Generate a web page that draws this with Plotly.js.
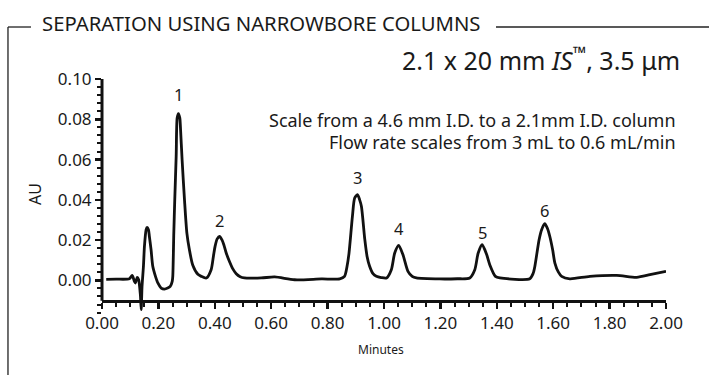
<!DOCTYPE html>
<html>
<head>
<meta charset="utf-8">
<script src="https://cdn.plot.ly/plotly-3.0.1.min.js"></script>
<style>html,body{margin:0;padding:0;background:#fff;}#chart{width:709px;height:375px;}</style>
</head>
<body>
<div id="chart"></div>
<script>
// Chromatogram trace (time in minutes, absorbance in AU)
var timeMin = [0.015,0.05,0.097,0.107,0.115,0.1186,0.125,0.130,0.136,0.139,0.142,0.147,0.1505,0.1565,0.160,0.1647,0.168,0.174,0.180,0.1896,0.198,0.2098,0.2215,0.233,0.242,0.249,0.251,0.2546,0.258,0.263,0.2665,0.271,0.276,0.278,0.284,0.2925,0.301,0.310,0.322,0.340,0.352,0.370,0.387,0.395,0.401,0.4085,0.417,0.425,0.432,0.4405,0.452,0.464,0.476,0.490,0.505,0.565,0.612,0.683,0.778,0.843,0.860,0.869,0.876,0.888,0.896,0.906,0.9137,0.920,0.932,0.940,0.949,0.961,0.973,0.990,1.009,1.026,1.038,1.052,1.067,1.085,1.100,1.115,1.198,1.260,1.304,1.322,1.334,1.348,1.364,1.375,1.395,1.411,1.517,1.529,1.535,1.550,1.559,1.570,1.579,1.588,1.598,1.606,1.618,1.630,1.659,1.730,1.825,1.896,1.943,2.000];
var absAU = [0.0005,0.0006,0.0008,0.0025,-0.0005,-0.0013,0.0015,0.0003,-0.007,-0.0145,-0.003,0.007,0.0169,0.0252,0.0263,0.0252,0.0218,0.0152,0.007,0.002,-0.0013,-0.0038,-0.0043,-0.0038,-0.003,-0.0005,0.002,0.0235,0.040,0.0616,0.0806,0.0828,0.0806,0.0765,0.060,0.040,0.0235,0.0152,0.0075,0.003,0.002,0.0012,0.0053,0.0119,0.0169,0.0206,0.0218,0.0202,0.0177,0.0136,0.0094,0.0057,0.0033,0.0018,0.0012,0.0012,0.0017,0.0003,0.0007,0.0008,0.002,0.007,0.0136,0.0318,0.0409,0.0426,0.040,0.0367,0.0202,0.0119,0.007,0.0033,0.002,0.0014,0.0012,0.0053,0.0136,0.0174,0.0128,0.0045,0.002,0.0012,0.0007,0.0008,0.0012,0.0053,0.0136,0.0177,0.0128,0.0078,0.002,0.0012,0.0008,0.0035,0.007,0.0202,0.0252,0.0282,0.026,0.0218,0.0152,0.0086,0.0042,0.002,0.0008,0.002,0.0025,0.0015,0.0028,0.0045];

// Peak labels
var peakNames = ['1','2','3','4','5','6'];
var peakTimes = [0.271,0.417,0.906,1.052,1.348,1.570];
var peakLabelAU = [0.0925,0.0297,0.0509,0.0257,0.0240,0.0349];

var yTickVals = [0,0.02,0.04,0.06,0.08,0.10];
var yTickText = ['0.00','0.02','0.04','0.06','0.08','0.10'];
var xTickVals = [0,0.2,0.4,0.6,0.8,1.0,1.2,1.4,1.6,1.8,2.0];
var xTickText = ['0.00','0.20','0.40','0.60','0.80','1.00','1.20','1.40','1.60','1.80','2.00'];

var FONT = 'Noto Sans, sans-serif';
var INK = '#1a1a1a';

var trace = {
  x: timeMin, y: absAU, type: 'scatter', mode: 'lines',
  line: {color: '#111', width: 2.8, shape: 'spline', smoothing: 0.7},
  hoverinfo: 'skip'
};

var annotations = [];
for (var i = 0; i < peakNames.length; i++) {
  annotations.push({x: peakTimes[i], y: peakLabelAU[i], xref: 'x', yref: 'y', text: peakNames[i],
    showarrow: false, font: {family: FONT, size: 16.5, color: INK}, xanchor: 'center', yanchor: 'middle'});
}
annotations.push({xref:'paper', yref:'paper', x:-0.1099, y:1.2393, xanchor:'left', yanchor:'middle',
  text:'SEPARATION USING NARROWBORE COLUMNS', showarrow:false, font:{family:FONT, size:20.3, color:INK}});
annotations.push({xref:'paper', yref:'paper', x:1.0284, y:1.0855, xanchor:'right', yanchor:'middle',
  text:'2.1 x 20 mm <i>IS</i><sup>™</sup>, 3.5 μm', showarrow:false, font:{family:FONT, size:25, color:INK}});
annotations.push({xref:'paper', yref:'paper', x:1.0213, y:0.8248, xanchor:'right', yanchor:'middle',
  text:'Scale from a 4.6 mm I.D. to a 2.1mm I.D. column', showarrow:false, font:{family:FONT, size:18, color:INK}});
annotations.push({xref:'paper', yref:'paper', x:1.0213, y:0.7308, xanchor:'right', yanchor:'middle',
  text:'Flow rate scales from 3 mL to 0.6 mL/min', showarrow:false, font:{family:FONT, size:18, color:INK}});
annotations.push({xref:'paper', yref:'paper', x:-0.1175, y:0.5073, xanchor:'center', yanchor:'middle', textangle:-90,
  text:'AU', showarrow:false, font:{family:FONT, size:16, color:INK}});
annotations.push({xref:'paper', yref:'paper', x:0.4938, y:-0.158, xanchor:'center', yanchor:'middle',
  text:'Minutes', showarrow:false, font:{family:FONT, size:12, color:INK}});

var frame = {color: '#222', width: 1.3};
var shapes = [
  {type:'line', xref:'paper', yref:'paper', x0:-0.1667, x1:-0.1667, y0:1.2222, y1:-0.30, line:frame},
  {type:'line', xref:'paper', yref:'paper', x0:-0.1667, x1:-0.1259, y0:1.2222, y1:1.2222, line:frame},
  {type:'line', xref:'paper', yref:'paper', x0:0.6986, x1:1.08, y0:1.2222, y1:1.2222, line:frame},
  // y axis line stops at the x axis line
  {type:'line', xref:'paper', yref:'y', x0:0, x1:0, y0:-0.0101, y1:0.1004, line:{color:'#111', width:3}}
];

var layout = {
  width: 709, height: 375,
  margin: {l: 102, r: 43, t: 79, b: 62},
  paper_bgcolor: '#fff', plot_bgcolor: '#fff',
  showlegend: false,
  font: {family: FONT, color: INK},
  xaxis: {
    range: [0, 2.0], anchor: 'free', position: 0.0534,
    tickvals: xTickVals, ticktext: xTickText,
    ticks: 'outside', ticklen: 6, tickwidth: 2.5, tickcolor: '#111',
    showline: true, linewidth: 3, linecolor: '#111',
    showgrid: false, zeroline: false,
    tickfont: {family: FONT, size: 17, color: INK},
    minor: {dtick: 0.05, tick0: 0, ticks: 'outside', ticklen: 4, tickwidth: 2, tickcolor: '#111', showgrid: false}
  },
  yaxis: {
    range: [-0.0162, 0.10],
    tickvals: yTickVals, ticktext: yTickText,
    ticks: 'outside', ticklen: 6, tickwidth: 2.5, tickcolor: '#111',
    showline: false, showgrid: false, zeroline: false,
    tickfont: {family: FONT, size: 17, color: INK},
    minor: {dtick: 0.004, tick0: 0, ticks: 'outside', ticklen: 4, tickwidth: 2, tickcolor: '#111', showgrid: false}
  },
  annotations: annotations,
  shapes: shapes
};

Plotly.newPlot('chart', [trace], layout, {displayModeBar: false, staticPlot: true});
</script>
</body>
</html>
